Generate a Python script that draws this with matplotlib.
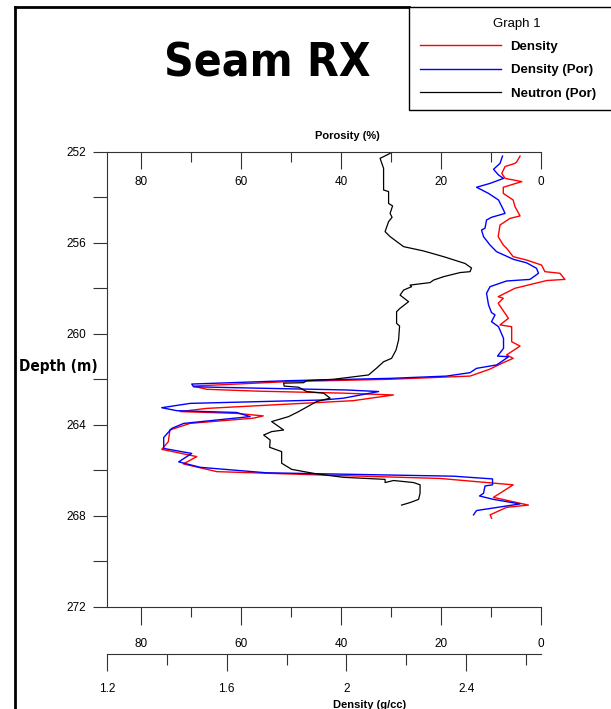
import numpy as np
import matplotlib
matplotlib.use('Agg')
import matplotlib.pyplot as plt
from matplotlib.lines import Line2D

plt.rcParams['font.family'] = ['Liberation Sans', 'DejaVu Sans']

# neutron porosity (%) vs depth (m)
neu_por = [30.2, 32.2, 31.5, 31.5, 30.5, 30.5, 29.7, 30.2, 29.8, 30.5, 31.2, 30.2, 27.5, 23.5,
           19.5, 15.2, 13.9, 14.2, 16.2, 19.5, 21.5, 22.2, 26.2, 25.9, 27.5, 28.2, 26.5, 28.2,
           28.9, 28.9, 28.3, 28.5, 29.0, 29.9, 31.5, 32.9, 34.5, 38.2, 41.5, 46.9, 47.5, 51.5,
           51.4, 48.5, 46.9, 43.5, 42.2, 44.9, 48.5, 50.5, 53.9, 51.5, 53.9, 55.5, 54.2, 54.3,
           51.9, 51.9, 49.9, 44.9, 39.5, 31.2, 31.2, 29.5, 25.5, 24.2, 24.2, 24.5, 26.2, 27.9]
neu_depth = [252.06, 252.28, 252.72, 253.67, 253.74, 254.26, 254.37, 254.7, 254.87, 255.06,
             255.5, 255.72, 256.16, 256.35, 256.6, 256.9, 257.1, 257.26, 257.3, 257.48, 257.63,
             257.74, 257.85, 257.92, 258.07, 258.29, 258.58, 258.87, 259.02, 259.53, 259.65,
             260.26, 260.7, 261.07, 261.22, 261.5, 261.8, 261.9, 261.99, 262.05, 262.14, 262.16,
             262.29, 262.34, 262.53, 262.6, 262.82, 262.97, 263.41, 263.63, 263.85, 264.22,
             264.29, 264.44, 264.66, 264.98, 265.17, 265.68, 265.95, 266.15, 266.3, 266.39,
             266.53, 266.44, 266.53, 266.63, 267.0, 267.27, 267.41, 267.52]

# density porosity (%) vs depth (m)
dpor = [7.7, 8.2, 9.5, 8.5, 7.5, 10.2, 12.9, 10.5, 8.5, 7.5, 7.2, 9.9, 10.9, 11.2, 11.9, 11.5,
        10.2, 8.9, 5.5, 2.9, 0.9, 0.5, 2.2, 6.9, 10.2, 10.9, 10.5, 9.9, 9.2, 9.9, 8.5, 7.5, 7.5,
        8.7, 6.5, 8.2, 8.9, 12.9, 14.2, 18.9, 30.2, 50.2, 69.9, 69.5, 56.9, 38.9, 32.5, 39.5,
        43.5, 70.2, 75.9, 72.9, 60.9, 58.2, 71.5, 73.9, 75.5, 75.5, 69.9, 72.5, 68.2, 55.0,
        17.5, 9.7, 9.7, 11.2, 11.5, 12.3, 9.5, 4.2, 6.9, 12.9, 13.5]
dpor_depth = [252.18, 252.5, 252.76, 253.01, 253.16, 253.38, 253.55, 253.82, 254.11, 254.55,
              254.7, 254.87, 254.99, 255.35, 255.43, 255.72, 256.09, 256.38, 256.72, 256.87,
              257.11, 257.33, 257.6, 257.67, 257.92, 258.21, 258.72, 259.06, 259.16, 259.46,
              259.68, 260.19, 260.63, 260.97, 261.0, 261.26, 261.36, 261.51, 261.7, 261.85,
              261.95, 262.05, 262.2, 262.32, 262.38, 262.46, 262.53, 262.82, 262.9, 263.05,
              263.24, 263.37, 263.45, 263.63, 263.93, 264.15, 264.55, 265.03, 265.25, 265.62,
              265.86, 266.1, 266.25, 266.37, 266.63, 266.68, 267.0, 267.12, 267.27, 267.47,
              267.56, 267.76, 267.95]

# bulk density (g/cc) vs depth (m)
dens = [2.580, 2.569, 2.563, 2.530, 2.519, 2.530, 2.586, 2.524, 2.524, 2.557, 2.563, 2.580,
        2.546, 2.513, 2.507, 2.524, 2.535, 2.557, 2.602, 2.652, 2.663, 2.713, 2.730, 2.669,
        2.563, 2.507, 2.524, 2.507, 2.541, 2.513, 2.552, 2.552, 2.580, 2.535, 2.557, 2.524,
        2.478, 2.413, 2.146, 1.811, 1.488, 1.533, 1.700, 1.990, 2.157, 2.023, 1.923, 1.533,
        1.444, 1.633, 1.722, 1.689, 1.477, 1.410, 1.405, 1.383, 1.500, 1.455, 1.567, 1.923,
        2.313, 2.557, 2.513, 2.491, 2.580, 2.608, 2.535, 2.480, 2.485]
dens_depth = [252.18, 252.43, 252.5, 252.64, 252.94, 253.16, 253.3, 253.55, 253.82, 254.11,
              254.4, 254.81, 254.92, 255.21, 255.72, 256.09, 256.23, 256.6, 256.75, 256.97,
              257.26, 257.33, 257.6, 257.65, 257.99, 258.36, 258.43, 258.65, 259.31, 259.6,
              259.68, 260.34, 260.53, 260.92, 261.07, 261.26, 261.55, 261.85, 261.99, 262.09,
              262.29, 262.43, 262.51, 262.6, 262.68, 262.93, 263.0, 263.27, 263.41, 263.49,
              263.6, 263.7, 263.93, 264.22, 264.73, 265.07, 265.39, 265.71, 266.05, 266.2,
              266.35, 266.63, 267.0, 267.18, 267.44, 267.52, 267.62, 267.95, 268.1]

por_ticks = [80, 60, 40, 20, 0]
por_minor = [70, 50, 30, 10]
den_ticks = [1.2, 1.6, 2.0, 2.4]
den_minor = [1.4, 1.8, 2.2, 2.6]
depth_ticks = [252, 256, 260, 264, 268, 272]
depth_minor = [254, 258, 262, 266, 270]

fig = plt.figure(figsize=(6.11, 7.09), dpi=100)
W, H = 611, 709
ax = fig.add_axes([107 / W, 1 - 607 / H, 434 / W, 455 / H])
ax_den = ax.twiny()
ax_top = ax.twiny()

tick_kw = dict(labelsize=8.5, width=0.8, color='#333333')
narrow = dict(family='DejaVu Sans', fontstretch='condensed', fontweight='bold')

# main porosity axis (bottom) + depth axis
ax.set_xlim(86.85, 0)
ax.set_ylim(272, 252)
ax.set_xticks(por_ticks)
ax.set_xticks(por_minor, minor=True)
ax.set_yticks(depth_ticks)
ax.set_yticks(depth_minor, minor=True)
ax.tick_params(axis='x', which='major', length=13, pad=9, **tick_kw)
ax.tick_params(axis='x', which='minor', length=7, **tick_kw)
ax.tick_params(axis='y', which='both', length=10, pad=5, **tick_kw)
ax.spines['right'].set_visible(False)
ax.spines['top'].set_visible(False)
for s in ['left', 'bottom']:
    ax.spines[s].set_color('#333333')
    ax.spines[s].set_linewidth(0.8)
ax.set_ylabel('Depth (m)', rotation=0, fontsize=11, **narrow)
ax.yaxis.set_label_coords(-0.112, 0.512)

# density axis below
ax_den.set_xlim(1.2, 2.65)
ax_den.xaxis.set_ticks_position('bottom')
ax_den.xaxis.set_label_position('bottom')
ax_den.spines['bottom'].set_position(('outward', 34))
for s in ['top', 'right', 'left']:
    ax_den.spines[s].set_visible(False)
ax_den.spines['bottom'].set_color('#333333')
ax_den.spines['bottom'].set_linewidth(0.8)
ax_den.set_xticks(den_ticks)
ax_den.set_xticklabels(['1.2', '1.6', '2', '2.4'])
ax_den.set_xticks(den_minor, minor=True)
ax_den.tick_params(axis='x', which='major', length=12, pad=9, **tick_kw)
ax_den.tick_params(axis='x', which='minor', length=8, **tick_kw)
ax_den.set_xlabel('Density (g/cc)', fontsize=8, fontweight='bold')
ax_den.xaxis.set_label_coords(0.606, -0.205)

# porosity axis on top, ticks pointing in, labels underneath
ax_top.set_xlim(86.85, 0)
ax_top.set_xticks(por_ticks)
ax_top.set_xticks(por_minor, minor=True)
ax_top.tick_params(axis='x', which='major', direction='in', length=12, pad=-26, **tick_kw)
ax_top.tick_params(axis='x', which='minor', direction='in', length=7, **tick_kw)
for s in ['bottom', 'right', 'left']:
    ax_top.spines[s].set_visible(False)
ax_top.spines['top'].set_color('#333333')
ax_top.spines['top'].set_linewidth(0.8)
ax_top.set_xlabel('Porosity (%)', fontsize=8, fontweight='bold')
ax_top.xaxis.set_label_coords(0.553, 1.028)

# curves
l_den, = ax_den.plot(dens, dens_depth, color='#ff0000', lw=1.0, clip_on=False)
l_dpor, = ax_top.plot(dpor, dpor_depth, color='#0000ff', lw=1.0)
l_neu, = ax_top.plot(neu_por, neu_depth, color='black', lw=0.9)

# legend box runs off the right edge of the page like the original
leg = fig.legend([l_den, l_dpor, l_neu], ['Density', 'Density (Por)', 'Neutron (Por)'],
                 title='Graph 1', loc='upper left',
                 bbox_to_anchor=(409 / W, 0, 215 / W, 1 - 7 / H), mode='expand',
                 borderaxespad=0, fancybox=False, framealpha=1, edgecolor='black',
                 prop={'weight': 'bold', 'size': 9.5}, title_fontsize=9.5,
                 handlelength=6.2, handletextpad=0.7, labelspacing=0.85, borderpad=0.8)
leg.get_frame().set_linewidth(1.0)

# page frame
fig.add_artist(Line2D([15 / W, 15 / W], [0, 1 - 7 / H], color='black', lw=2))
fig.add_artist(Line2D([15 / W, 409 / W], [1 - 7 / H, 1 - 7 / H], color='black', lw=2))

fig.text(267 / W, 1 - 64 / H, 'Seam RX', ha='center', va='center', fontsize=33, **narrow)

fig.savefig('out.png', dpi=100)
